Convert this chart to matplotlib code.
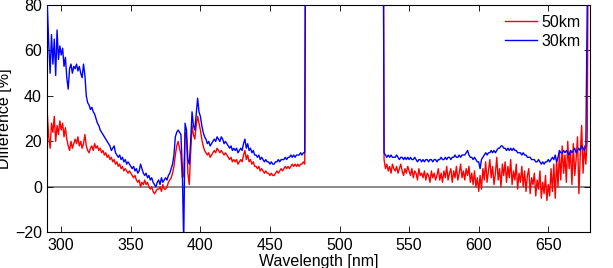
import numpy as np
import matplotlib
matplotlib.use("Agg")
import matplotlib.pyplot as plt

plt.rcParams['font.family'] = ['Liberation Sans', 'DejaVu Sans']

# Wavelength grids (nm)
wl_left = list(range(290, 477))          # 290..476
wl_right = list(range(531, 680))         # 531..679

# 30 km series (blue), left block 290..476
blue_left = [
    80, 63, 50, 67, 54, 65, 49, 69, 56, 62,
    58, 61, 53, 57, 48, 43, 52, 54, 50, 53,
    52, 54, 51, 53, 50, 48, 54, 49, 40, 37,
    36, 34, 35, 33, 32, 30, 28, 27, 25, 24,
    23, 22, 21, 20, 19, 18, 16, 17, 18, 15,
    14, 13, 14, 12, 13, 11, 12, 10, 11, 10,
    9, 8, 9, 7, 8, 6, 7, 10, 8, 6,
    5, 6, 4, 5, 3, 4, 2, 1, 0, 2,
    3, 1, 4, 2, 3, 4, 3, 5, 6, 8,
    10, 14, 22, 24, 25, 24, 23, 8, -25, 28,
    25, 12, 10, 20, 33, 27, 25, 32, 39, 33,
    31, 27, 24, 22, 21, 19, 20, 18, 19, 20,
    21, 20, 22, 21, 20, 22, 21, 19, 20, 19,
    18, 17, 18, 16, 17, 16, 17, 15, 16, 17,
    16, 19, 21, 17, 19, 16, 17, 15, 16, 14,
    14, 13, 14, 12, 13, 12, 11, 12, 11, 11,
    10, 11, 10, 10, 11, 11, 12, 11, 12, 12,
    12, 13, 12, 13, 13, 14, 13, 14, 13, 14,
    14, 14, 15, 14, 15, 15, 200,
]

# 50 km series (red), left block 290..476
red_left = [
    32, 22, 17, 28, 24, 31, 20, 27, 23, 29,
    25, 28, 22, 26, 21, 18, 16, 20, 17, 19,
    21, 19, 22, 18, 20, 17, 19, 23, 18, 16,
    15, 17, 18, 16, 19, 17, 18, 16, 17, 15,
    16, 14, 15, 13, 14, 12, 13, 11, 12, 10,
    11, 9, 10, 8, 9, 7, 8, 7, 6, 7,
    6, 5, 4, 5, 3, 2, 3, 0, 2, 1,
    3, 1, 2, 0, -1, 0, -2, -3, -2, -1,
    -1, 0, -2, 1, -1, -1, 0, 2, 3, 4,
    6, 9, 14, 18, 20, 17, 14, 4, 5, 24,
    22, 6, 1, 15, 27, 23, 21, 27, 31, 28,
    25, 21, 18, 16, 15, 14, 15, 13, 14, 15,
    16, 15, 17, 16, 15, 16, 15, 14, 15, 14,
    13, 12, 13, 11, 12, 11, 12, 10, 11, 12,
    11, 14, 16, 12, 14, 11, 12, 10, 11, 9,
    9, 8, 9, 7, 8, 7, 6, 7, 6, 6,
    5, 6, 5, 5, 6, 7, 6, 7, 8, 7,
    8, 9, 8, 9, 8, 9, 10, 9, 10, 9,
    10, 9, 10, 10, 11, 10, 200,
]

# 30 km series (blue), right block 531..679
blue_right = [
    200,
    15, 14, 13, 14, 13, 14, 13, 13,
    13, 14, 13, 12, 13, 13, 12, 13, 12, 13,
    12, 13, 12, 12, 13, 12, 11, 12, 12, 11,
    12, 11, 12, 12, 11, 12, 12, 11, 12, 12,
    11, 12, 12, 13, 12, 12, 13, 12, 13, 13,
    12, 13, 13, 14, 13, 13, 14, 13, 14, 14,
    14, 15, 16, 14, 13, 13, 12, 13, 12, 11,
    11, 8, 12, 13, 14, 15, 14, 15, 15, 16,
    15, 16, 15, 16, 17, 17, 18, 18, 17, 17,
    16, 17, 16, 17, 16, 17, 16, 16, 15, 15,
    15, 14, 15, 14, 14, 13, 13, 13, 12, 12,
    12, 11, 11, 12, 11, 10, 11, 10, 11, 11,
    12, 11, 12, 13, 12, 14, 11, 13, 16, 15,
    15, 16, 15, 16, 15, 14, 16, 15, 16, 17,
    15, 16, 17, 16, 18, 17, 16, 18, 80, 150,
]

# 50 km series (red), right block 531..679
red_right = [
    200,
    12, 8, 10, 7, 9, 6, 10, 8,
    7, 9, 6, 8, 10, 7, 5, 8, 6, 9,
    7, 5, 8, 4, 7, 6, 3, 8, 5, 6,
    4, 7, 3, 6, 5, 2, 7, 4, 6, 3,
    5, 8, 3, 6, 2, 7, 4, 9, 3, 6,
    8, 2, 7, 4, 9, 3, 6, 10, 4, 7,
    3, 8, 5, 9, 2, 6, 1, 7, 0, 4,
    -2, 5, -1, 8, 3, 11, 2, 7, 12, 4,
    9, 1, 6, 13, 3, 8, 0, 10, 5, 11,
    2, 9, 4, 12, 1, 7, 3, 10, -1, 6,
    2, 9, 0, 7, -2, 5, 8, -3, 4, 1,
    6, -4, 3, -1, 7, -5, 2, -3, 5, -6,
    1, -4, 8, -2, 10, -5, 12, 0, 15, 3,
    18, 6, 14, 2, 20, 8, 16, 1, 19, 5,
    12, 22, -3, 14, 27, 6, 18, 10, 21, 150,
]

wl = wl_left + wl_right
blue = blue_left + blue_right
red = red_left + red_right

x_ticks = [300, 350, 400, 450, 500, 550, 600, 650]
y_ticks = [-20, 0, 20, 40, 60, 80]

FS = 11.5

fig = plt.figure(figsize=(6.13, 2.68), dpi=100)
ax = fig.add_axes([0.0772, 0.1332, 0.8853, 0.8481])

ax.axhline(0, color='#808080', lw=1.3, zorder=1)
ax.plot(wl, red, color='#ff0000', lw=1.0, label='50km', zorder=2)
ax.plot(wl, blue, color='#0000ff', lw=1.0, label='30km', zorder=3)

ax.set_xlim(290, 680)
ax.set_ylim(-20, 80)
ax.set_xticks(x_ticks)
ax.set_yticks(y_ticks)
ax.set_yticklabels(['\u221220' if v < 0 else str(v) for v in y_ticks])
ax.tick_params(direction='in', top=True, right=True, length=4, width=0.6,
               labelsize=FS, pad=4)
for s in ax.spines.values():
    s.set_linewidth(0.8)

ax.set_xlabel('Wavelength [nm]', fontsize=FS, labelpad=1)
ax.set_ylabel('Difference [%]', fontsize=FS)
ax.yaxis.set_label_coords(-0.065, 0.5)

leg = ax.legend(loc='upper right', frameon=False, fontsize=FS,
                handlelength=2.0, handletextpad=0.3, labelspacing=0.25,
                borderaxespad=0.2, borderpad=0.4)

fig.savefig('out.png', dpi=100)
